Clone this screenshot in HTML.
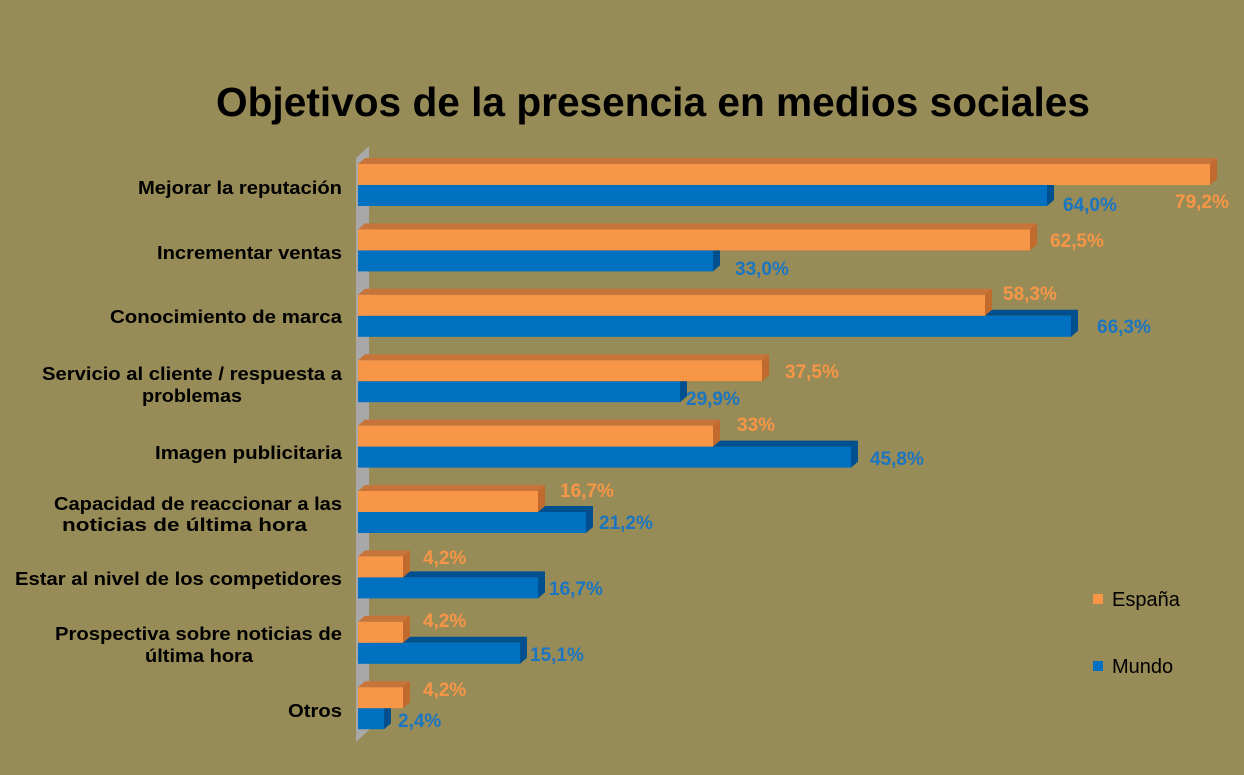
<!DOCTYPE html>
<html><head><meta charset="utf-8"><style>
html,body{margin:0;padding:0;background:#978b57;}
svg{display:block;font-family:"Liberation Sans",Arial,sans-serif;}
.c{font-weight:bold;font-size:18px;fill:#000;}
.o{font-weight:bold;font-size:19px;fill:#f79646;}
.b{font-weight:bold;font-size:19px;fill:#1b75c0;}
</style></head><body>
<svg width="1244" height="775" viewBox="0 0 1244 775">
<rect x="0" y="0" width="1244" height="775" fill="#978b57"/>
<text x="216" y="116" textLength="874" lengthAdjust="spacingAndGlyphs" font-size="41" font-weight="bold" fill="#000">Objetivos de la presencia en medios sociales</text>
<polygon points="356,158 369,146 369,730 356,742" fill="#a8a8a8"/>
<g>
<rect x="358" y="185" width="689" height="21" fill="#0070c0"/><polygon points="358,185 1047,185 1054,179 365,179" fill="#00508f"/><polygon points="1047,185 1054,179 1054,200 1047,206" fill="#00508f"/>
<rect x="358" y="250.4" width="355" height="21" fill="#0070c0"/><polygon points="358,250.4 713,250.4 720,244.4 365,244.4" fill="#00508f"/><polygon points="713,250.4 720,244.4 720,265.4 713,271.4" fill="#00508f"/>
<rect x="358" y="315.8" width="713" height="21" fill="#0070c0"/><polygon points="358,315.8 1071,315.8 1078,309.8 365,309.8" fill="#00508f"/><polygon points="1071,315.8 1078,309.8 1078,330.8 1071,336.8" fill="#00508f"/>
<rect x="358" y="381.2" width="322" height="21" fill="#0070c0"/><polygon points="358,381.2 680,381.2 687,375.2 365,375.2" fill="#00508f"/><polygon points="680,381.2 687,375.2 687,396.2 680,402.2" fill="#00508f"/>
<rect x="358" y="446.6" width="493" height="21" fill="#0070c0"/><polygon points="358,446.6 851,446.6 858,440.6 365,440.6" fill="#00508f"/><polygon points="851,446.6 858,440.6 858,461.6 851,467.6" fill="#00508f"/>
<rect x="358" y="512" width="228" height="21" fill="#0070c0"/><polygon points="358,512 586,512 593,506 365,506" fill="#00508f"/><polygon points="586,512 593,506 593,527 586,533" fill="#00508f"/>
<rect x="358" y="577.4" width="180" height="21" fill="#0070c0"/><polygon points="358,577.4 538,577.4 545,571.4 365,571.4" fill="#00508f"/><polygon points="538,577.4 545,571.4 545,592.4 538,598.4" fill="#00508f"/>
<rect x="358" y="642.8" width="162" height="21" fill="#0070c0"/><polygon points="358,642.8 520,642.8 527,636.8 365,636.8" fill="#00508f"/><polygon points="520,642.8 527,636.8 527,657.8 520,663.8" fill="#00508f"/>
<rect x="358" y="708.2" width="26" height="21" fill="#0070c0"/><polygon points="358,708.2 384,708.2 391,702.2 365,702.2" fill="#00508f"/><polygon points="384,708.2 391,702.2 391,723.2 384,729.2" fill="#00508f"/>
</g>
<g>
<rect x="358" y="164" width="852" height="21" fill="#f79646"/><polygon points="358,164 1210,164 1217,158 365,158" fill="#c6743a"/><polygon points="1210,164 1217,158 1217,179 1210,185" fill="#c06a2e"/>
<rect x="358" y="229.4" width="672" height="21" fill="#f79646"/><polygon points="358,229.4 1030,229.4 1037,223.4 365,223.4" fill="#c6743a"/><polygon points="1030,229.4 1037,223.4 1037,244.4 1030,250.4" fill="#c06a2e"/>
<rect x="358" y="294.8" width="627" height="21" fill="#f79646"/><polygon points="358,294.8 985,294.8 992,288.8 365,288.8" fill="#c6743a"/><polygon points="985,294.8 992,288.8 992,309.8 985,315.8" fill="#c06a2e"/>
<rect x="358" y="360.2" width="404" height="21" fill="#f79646"/><polygon points="358,360.2 762,360.2 769,354.2 365,354.2" fill="#c6743a"/><polygon points="762,360.2 769,354.2 769,375.2 762,381.2" fill="#c06a2e"/>
<rect x="358" y="425.6" width="355" height="21" fill="#f79646"/><polygon points="358,425.6 713,425.6 720,419.6 365,419.6" fill="#c6743a"/><polygon points="713,425.6 720,419.6 720,440.6 713,446.6" fill="#c06a2e"/>
<rect x="358" y="491" width="180" height="21" fill="#f79646"/><polygon points="358,491 538,491 545,485 365,485" fill="#c6743a"/><polygon points="538,491 545,485 545,506 538,512" fill="#c06a2e"/>
<rect x="358" y="556.4" width="45" height="21" fill="#f79646"/><polygon points="358,556.4 403,556.4 410,550.4 365,550.4" fill="#c6743a"/><polygon points="403,556.4 410,550.4 410,571.4 403,577.4" fill="#c06a2e"/>
<rect x="358" y="621.8" width="45" height="21" fill="#f79646"/><polygon points="358,621.8 403,621.8 410,615.8 365,615.8" fill="#c6743a"/><polygon points="403,621.8 410,615.8 410,636.8 403,642.8" fill="#c06a2e"/>
<rect x="358" y="687.2" width="45" height="21" fill="#f79646"/><polygon points="358,687.2 403,687.2 410,681.2 365,681.2" fill="#c6743a"/><polygon points="403,687.2 410,681.2 410,702.2 403,708.2" fill="#c06a2e"/>
</g>
<g class="c" lengthAdjust="spacingAndGlyphs">
<text x="138" y="194" textLength="204" lengthAdjust="spacingAndGlyphs">Mejorar la reputación</text>
<text x="157" y="259" textLength="185" lengthAdjust="spacingAndGlyphs">Incrementar ventas</text>
<text x="110" y="323" textLength="232" lengthAdjust="spacingAndGlyphs">Conocimiento de marca</text>
<text x="42" y="380" textLength="300" lengthAdjust="spacingAndGlyphs">Servicio al cliente / respuesta a</text>
<text x="142" y="402" textLength="100" lengthAdjust="spacingAndGlyphs">problemas</text>
<text x="155" y="459" textLength="187" lengthAdjust="spacingAndGlyphs">Imagen publicitaria</text>
<text x="54" y="510" textLength="288" lengthAdjust="spacingAndGlyphs">Capacidad de reaccionar a las</text>
<text x="62" y="531" textLength="245" lengthAdjust="spacingAndGlyphs">noticias de última hora</text>
<text x="15" y="585" textLength="327" lengthAdjust="spacingAndGlyphs">Estar al nivel de los competidores</text>
<text x="55" y="640" textLength="287" lengthAdjust="spacingAndGlyphs">Prospectiva sobre noticias de</text>
<text x="145" y="662" textLength="108" lengthAdjust="spacingAndGlyphs">última hora</text>
<text x="288" y="717" textLength="54" lengthAdjust="spacingAndGlyphs">Otros</text>
</g>
<g class="o">
<text x="1175" y="208">79,2%</text>
<text x="1050" y="247">62,5%</text>
<text x="1003" y="300">58,3%</text>
<text x="785" y="378">37,5%</text>
<text x="737" y="431">33%</text>
<text x="560" y="497">16,7%</text>
<text x="423" y="564">4,2%</text>
<text x="423" y="627">4,2%</text>
<text x="423" y="696">4,2%</text>
</g>
<g class="b">
<text x="1063" y="211">64,0%</text>
<text x="735" y="275">33,0%</text>
<text x="1097" y="333">66,3%</text>
<text x="686" y="405">29,9%</text>
<text x="870" y="465">45,8%</text>
<text x="599" y="529">21,2%</text>
<text x="549" y="595">16,7%</text>
<text x="530" y="661">15,1%</text>
<text x="398" y="727">2,4%</text>
</g>
<rect x="1093" y="594" width="10" height="10" fill="#f79646"/>
<text x="1112" y="606" font-size="20" fill="#000">España</text>
<rect x="1093" y="661" width="10" height="10" fill="#0070c0"/>
<text x="1112" y="673" font-size="20" fill="#000">Mundo</text>
</svg>
</body></html>
